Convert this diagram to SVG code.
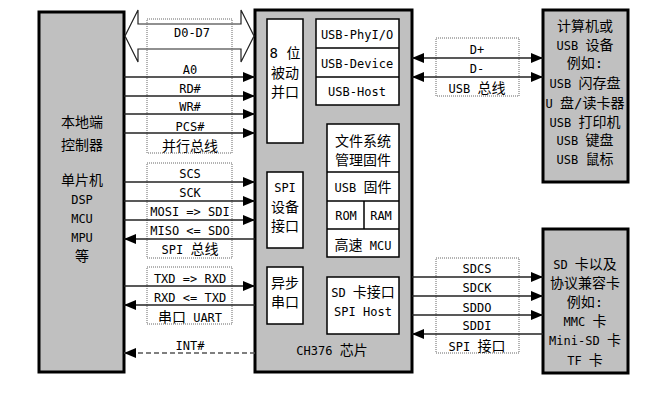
<svg xmlns="http://www.w3.org/2000/svg" width="660" height="406" viewBox="0 0 660 406">
<defs>
<style>
text{font-family:"DejaVu Sans Mono","Noto Sans CJK SC",monospace;font-size:12px;fill:#000;text-anchor:middle}
.c{font-size:14px}
.box{fill:#c0c0c0;stroke:#000;stroke-width:3}
.in{fill:#fff;stroke:#000;stroke-width:1.5}
.bus{fill:none;stroke:#666;stroke-width:1;stroke-dasharray:1 1}
.ln{fill:none;stroke:#222;stroke-width:1.5}
.dash{fill:none;stroke:#555;stroke-width:1.5;stroke-dasharray:5 3}
</style>
<marker id="arr" viewBox="0 0 12 10" refX="12" refY="5" markerWidth="12" markerHeight="10" markerUnits="userSpaceOnUse" orient="auto-start-reverse">
<path d="M0,0 L12,5 L0,10 z" fill="#000"/>
</marker>
</defs>
<rect width="660" height="406" fill="#fff"/>

<g id="host">
<rect class="box" x="39" y="12" width="85" height="360"/>
<text class="c" x="82" y="127">本地端</text>
<text class="c" x="82" y="150">控制器</text>
<text class="c" x="82" y="185">单片机</text>
<text x="82" y="204">DSP</text>
<text x="82" y="223">MCU</text>
<text x="82" y="242">MPU</text>
<text class="c" x="82" y="261">等</text>
</g>

<g id="ch376">
<rect class="box" x="255" y="10" width="157" height="362"/>
<text x="332" y="355">CH376 <tspan class="c">芯片</tspan></text>
</g>
<g id="par">
<rect class="in" x="267" y="19" width="36" height="124"/>
<text class="c" x="285" y="58">8 位</text>
<text class="c" x="285" y="78">被动</text>
<text class="c" x="285" y="97">并口</text>
</g>
<g id="usb">
<rect class="in" x="316" y="19" width="83" height="86"/>
<line class="in" x1="316" y1="48" x2="399" y2="48"/>
<line class="in" x1="316" y1="77" x2="399" y2="77"/>
<text x="357" y="39">USB-PhyI/O</text>
<text x="357" y="68">USB-Device</text>
<text x="357" y="96">USB-Host</text>
</g>
<g id="fw">
<rect class="in" x="327" y="124" width="72" height="133"/>
<line class="in" x1="327" y1="172" x2="399" y2="172"/>
<line class="in" x1="327" y1="201" x2="399" y2="201"/>
<line class="in" x1="327" y1="229" x2="399" y2="229"/>
<line class="in" x1="364" y1="201" x2="364" y2="229"/>
<text class="c" x="363" y="146">文件系统</text>
<text class="c" x="363" y="165">管理固件</text>
<text x="363" y="192">USB <tspan class="c">固件</tspan></text>
<text x="346" y="220">ROM</text>
<text x="381" y="220">RAM</text>
<text x="363" y="250"><tspan class="c">高速</tspan> MCU</text>
</g>
<g id="spi">
<rect class="in" x="267" y="172" width="36" height="76"/>
<text x="285" y="192">SPI</text>
<text class="c" x="285" y="212">设备</text>
<text class="c" x="285" y="231">接口</text>
</g>
<g id="uart">
<rect class="in" x="267" y="267" width="36" height="57"/>
<text class="c" x="285" y="288">异步</text>
<text class="c" x="285" y="307">串口</text>
</g>
<g id="sd">
<rect class="in" x="327" y="277" width="72" height="57"/>
<text x="363" y="297">SD <tspan class="c">卡接口</tspan></text>
<text x="363" y="316">SPI Host</text>
</g>

<g id="usbdev">
<rect class="box" x="543" y="10" width="85" height="172"/>
<text class="c" x="585" y="31">计算机或</text>
<text x="585" y="50">USB <tspan class="c">设备</tspan></text>
<text class="c" x="585" y="68">例如:</text>
<text x="585" y="88">USB <tspan class="c">闪存盘</tspan></text>
<text x="585" y="108">U <tspan class="c">盘/读卡器</tspan></text>
<text x="585" y="127">USB <tspan class="c">打印机</tspan></text>
<text x="585" y="145">USB <tspan class="c">键盘</tspan></text>
<text x="585" y="164">USB <tspan class="c">鼠标</tspan></text>
</g>
<g id="sdcard">
<rect class="box" x="543" y="229" width="85" height="144"/>
<text x="585" y="269">SD <tspan class="c">卡以及</tspan></text>
<text class="c" x="585" y="288">协议兼容卡</text>
<text class="c" x="585" y="307">例如:</text>
<text x="585" y="326">MMC <tspan class="c">卡</tspan></text>
<text x="585" y="345">Mini-SD <tspan class="c">卡</tspan></text>
<text x="585" y="365">TF <tspan class="c">卡</tspan></text>
</g>

<g id="connectors">
<path d="M138,24 V10 L125,36 L138,62 V49 H241 V62 L254,36 L241,10 V24 Z" fill="#fff" stroke="#222" stroke-width="1.2"/>
<rect class="bus" x="147" y="19" width="85" height="134"/>
<text x="192" y="37">D0-D7</text>
<path class="ln" d="M124,77 H255" marker-end="url(#arr)"/>
<path class="ln" d="M124,96 H255" marker-end="url(#arr)"/>
<path class="ln" d="M124,114 H255" marker-end="url(#arr)"/>
<path class="ln" d="M124,133 H255" marker-end="url(#arr)"/>
<text x="190" y="74">A0</text>
<text x="190" y="93">RD#</text>
<text x="190" y="111">WR#</text>
<text x="190" y="131">PCS#</text>
<text class="c" x="190" y="151">并行总线</text>

<rect class="bus" x="147" y="163" width="85" height="95"/>
<path class="ln" d="M124,182 H255" marker-end="url(#arr)"/>
<path class="ln" d="M124,201 H255" marker-end="url(#arr)"/>
<path class="ln" d="M124,220 H255" marker-end="url(#arr)"/>
<path class="ln" d="M255,239 H124" marker-end="url(#arr)"/>
<text x="190" y="178">SCS</text>
<text x="190" y="197">SCK</text>
<text x="190" y="216">MOSI => SDI</text>
<text x="190" y="235">MISO &lt;= SDO</text>
<text x="190" y="254">SPI <tspan class="c">总线</tspan></text>

<rect class="bus" x="147" y="267" width="85" height="57"/>
<path class="ln" d="M124,286 H255" marker-end="url(#arr)"/>
<path class="ln" d="M255,305 H124" marker-end="url(#arr)"/>
<text x="190" y="283">TXD => RXD</text>
<text x="190" y="302">RXD &lt;= TXD</text>
<text x="190" y="322"><tspan class="c">串口</tspan> UART</text>

<path class="dash" d="M255,353 H124" marker-end="url(#arr)"/>
<text x="190" y="350">INT#</text>

<rect class="bus" x="436" y="38" width="83" height="58"/>
<path class="ln" d="M412,58 H543" marker-start="url(#arr)" marker-end="url(#arr)"/>
<path class="ln" d="M412,77 H543" marker-start="url(#arr)" marker-end="url(#arr)"/>
<text x="477" y="54">D+</text>
<text x="477" y="73">D-</text>
<text x="477" y="93">USB <tspan class="c">总线</tspan></text>

<rect class="bus" x="436" y="258" width="83" height="95"/>
<path class="ln" d="M412,277 H543" marker-end="url(#arr)"/>
<path class="ln" d="M412,296 H543" marker-end="url(#arr)"/>
<path class="ln" d="M412,315 H543" marker-end="url(#arr)"/>
<path class="ln" d="M543,334 H412" marker-end="url(#arr)"/>
<text x="477" y="273">SDCS</text>
<text x="477" y="292">SDCK</text>
<text x="477" y="312">SDDO</text>
<text x="477" y="330">SDDI</text>
<text x="477" y="351">SPI <tspan class="c">接口</tspan></text>
</g>
</svg>
